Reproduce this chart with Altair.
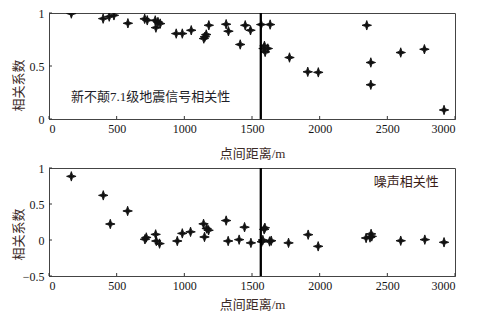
import altair as alt
import pandas as pd

# --- data ---
top_dist = [165, 400, 445, 480, 583, 707, 726, 785, 790, 805, 822, 940, 985, 1051,
            1144, 1152, 1162, 1181, 1309, 1326, 1413, 1450, 1489, 1568, 1634, 1585,
            1592, 1597, 1617, 1777, 1912, 1990, 2348, 2378, 2378, 2599, 2774, 2919]
top_corr = [0.995, 0.947, 0.966, 0.978, 0.903, 0.945, 0.931, 0.93, 0.862, 0.915, 0.90,
            0.806, 0.806, 0.837, 0.759, 0.776, 0.797, 0.884, 0.894, 0.828, 0.703, 0.884,
            0.837, 0.891, 0.891, 0.665, 0.69, 0.633, 0.665, 0.58, 0.445, 0.44, 0.884,
            0.533, 0.323, 0.627, 0.658, 0.085]

bot_dist = [165, 401, 453, 581, 709, 719, 788, 793, 817, 948, 985, 1046, 1142, 1149,
            1165, 1179, 1309, 1324, 1405, 1445, 1492, 1572, 1580, 1590, 1595, 1630,
            1642, 1770, 1915, 1989, 2343, 2372, 2380, 2385, 2599, 2777, 2919]
bot_corr = [0.884, 0.62, 0.222, 0.403, 0.01, 0.035, 0.078, -0.014, -0.05, -0.014, 0.092,
            0.113, 0.224, 0.042, 0.16, 0.135, 0.27, -0.014, 0.005, 0.178, -0.04, -0.024,
            0.0, 0.148, 0.17, -0.02, -0.01, -0.04, 0.074, -0.088, 0.028, 0.035, 0.085,
            0.05, -0.01, 0.005, -0.032]

boundary = [1565]
x_ticks = [0, 500, 1000, 1500, 2000, 2500, 3000]
top_y_ticks = [0, 0.5, 1]
bot_y_ticks = [-0.5, 0, 0.5, 1]
top_label = ["新不颠7.1级地震信号相关性"]
bot_label = ["噪声相关性"]
x_title = "点间距离/m"
y_title = "相关系数"

W = 406
SERIF_CJK = "Liberation Serif, Noto Sans CJK SC"
STAR = "M0,-1L0.25,-0.25L1,0L0.25,0.25L0,1L-0.25,0.25L-1,0L-0.25,-0.25Z"


def panel(dist, corr, ydom, yticks, H, label, lx, ly, lcolor, ytY, xtY):
    xs = alt.Scale(domain=[0, 3000], nice=False, zero=False)
    ys = alt.Scale(domain=ydom, nice=False, zero=False)
    xa = alt.Axis(values=x_ticks, title=x_title, format="d",
                  titleY=xtY, titleBaseline="middle", labelOverlap=False)
    ya = alt.Axis(values=yticks, title=y_title, format="~g", labelOverlap=False,
                  titleX=-31, titleY=ytY, titleBaseline="middle")
    df = pd.DataFrame({"d": dist, "c": corr})
    pts = alt.Chart(df).mark_point(shape=STAR, filled=True, size=90, color="#111",
                                   stroke="#111", strokeWidth=0.9, opacity=1,
                                   clip=True).encode(
        x=alt.X("d:Q", scale=xs, axis=xa),
        y=alt.Y("c:Q", scale=ys, axis=ya),
    )
    line = alt.Chart(pd.DataFrame({"b": boundary})).mark_rule(
        color="black", strokeWidth=2.3).encode(x=alt.X("b:Q", scale=xs, axis=xa))
    xt = alt.Chart(pd.DataFrame({"xt": x_ticks})).mark_rule(
        color="#333", strokeWidth=1).encode(
        x=alt.X("xt:Q", scale=xs, axis=xa), y=alt.value(H), y2=alt.value(H - 3))
    yt = alt.Chart(pd.DataFrame({"ytk": yticks})).mark_rule(
        color="#333", strokeWidth=1).encode(
        y=alt.Y("ytk:Q", scale=ys, axis=ya), x=alt.value(0), x2=alt.value(3))
    txt = alt.Chart(pd.DataFrame({"lx": [lx], "ly": [ly], "t": label})).mark_text(
        font=SERIF_CJK, fontSize=13, color=lcolor, align="center",
        baseline="middle").encode(
        x=alt.X("lx:Q", scale=xs, axis=xa), y=alt.Y("ly:Q", scale=ys, axis=ya),
        text="t:N")
    return alt.layer(pts, line, xt, yt, txt).properties(width=W, height=H)


top = panel(top_dist, top_corr, [0, 1], top_y_ticks, 106, top_label,
            750, 0.205, "#1e1e28", 72, 34)
bot = panel(bot_dist, bot_corr, [-0.5, 1], bot_y_ticks, 108, bot_label,
            2640, 0.805, "#3a1c16", 66, 28)

chart = alt.vconcat(top, bot, spacing=0).properties(
    padding={"left": 11, "top": 6, "right": 5, "bottom": 5},
    background="white",
).configure_view(stroke="#444", strokeWidth=1).configure_axis(
    grid=False, ticks=False, domainColor="#444", domainWidth=1,
    labelFont="Liberation Serif", labelFontSize=12, labelColor="#151515",
    labelPadding=5, titleFont=SERIF_CJK, titleFontSize=13,
    titleFontWeight="normal", titleColor="#3b2a26",
).configure_axisX(labelPadding=4)

chart.save("out.html", embed_options={"renderer": "svg", "actions": False})
